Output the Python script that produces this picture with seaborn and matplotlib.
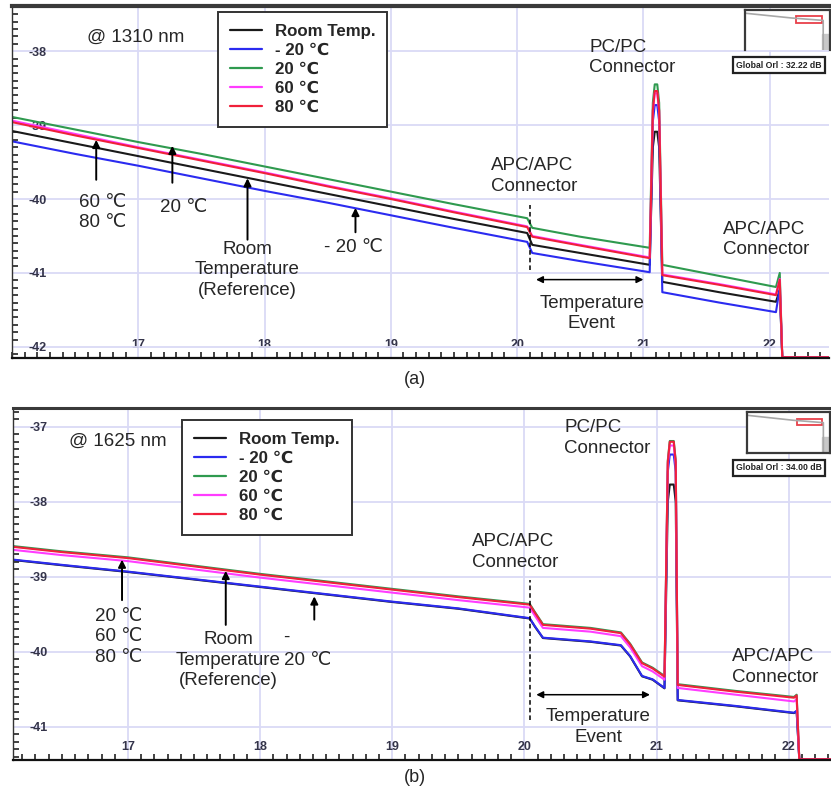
import matplotlib
matplotlib.use("Agg")
import matplotlib.pyplot as plt
import numpy as np
import pandas as pd
import seaborn as sns
from matplotlib.ticker import MultipleLocator
from matplotlib.patches import Rectangle

# ---------------- data ----------------
series_names = ['Room Temp.', '- 20 ℃', '20 ℃', '60 ℃', '80 ℃']
series_colors = ['#1a1a1a', '#2b2bf0', '#2f9a4f', '#ff3cff', '#f0203a']

# Panel (a) @ 1310 nm : distance (km)
dist_a = [16.0, 16.5, 17.0, 17.5, 18.0, 18.5, 19.0, 19.5, 20.08, 20.12, 20.5,
          21.05, 21.075, 21.09, 21.11, 21.125, 21.15, 21.6, 22.05, 22.08, 22.1, 22.47]
room_a = [-39.08, -39.25, -39.42, -39.59, -39.76, -39.93, -40.10, -40.27, -40.46, -40.62, -40.73,
          -40.89, -39.30, -39.09, -39.09, -39.30, -41.12, -41.26, -41.39, -41.23, -42.14, -42.14]
m20_a = [-39.22, -39.39, -39.55, -39.72, -39.89, -40.05, -40.22, -40.39, -40.58, -40.73, -40.84,
         -40.99, -38.95, -38.73, -38.73, -38.95, -41.26, -41.40, -41.53, -41.20, -42.14, -42.14]
p20_a = [-38.89, -39.06, -39.23, -39.39, -39.56, -39.73, -39.90, -40.07, -40.26, -40.39, -40.51,
         -40.66, -38.70, -38.45, -38.45, -38.70, -40.89, -41.04, -41.19, -41.00, -42.14, -42.14]
p60_a = [-38.94, -39.12, -39.30, -39.47, -39.64, -39.82, -39.99, -40.17, -40.37, -40.50, -40.62,
         -40.79, -38.82, -38.57, -38.57, -38.82, -41.02, -41.15, -41.29, -41.08, -42.14, -42.14]
p80_a = [-38.96, -39.14, -39.31, -39.48, -39.65, -39.83, -40.00, -40.18, -40.38, -40.51, -40.63,
         -40.80, -38.80, -38.54, -38.54, -38.80, -41.03, -41.16, -41.30, -41.09, -42.14, -42.14]

# Panel (b) @ 1625 nm
dist_b = [16.13, 16.5, 17.0, 17.5, 18.0, 18.5, 19.0, 19.5, 20.04, 20.08, 20.14, 20.5, 20.73,
          20.8, 20.89, 20.97, 21.06, 21.085, 21.1, 21.13, 21.145, 21.16, 21.6, 22.04, 22.06,
          22.08, 22.32]
room_b = [-38.775, -38.845, -38.935, -39.035, -39.135, -39.235, -39.335, -39.425, -39.555, -39.665,
          -39.815, -39.865, -39.915, -40.06, -40.325, -40.37, -40.485, -38.00, -37.77, -37.77,
          -38.00, -40.645, -40.725, -40.815, -40.79, -41.43, -41.43]
m20_b = [-38.77, -38.84, -38.93, -39.03, -39.13, -39.23, -39.33, -39.42, -39.55, -39.66,
         -39.81, -39.86, -39.91, -40.055, -40.32, -40.365, -40.48, -37.60, -37.37, -37.37,
         -37.60, -40.64, -40.72, -40.81, -40.785, -41.43, -41.43]
p20_b = [-38.59, -38.66, -38.74, -38.85, -38.96, -39.06, -39.16, -39.26, -39.36, -39.47,
         -39.63, -39.68, -39.74, -39.89, -40.14, -40.21, -40.32, -37.45, -37.19, -37.19,
         -37.45, -40.43, -40.52, -40.60, -40.57, -41.43, -41.43]
p60_b = [-38.64, -38.71, -38.79, -38.90, -39.01, -39.11, -39.21, -39.31, -39.41, -39.52,
         -39.68, -39.73, -39.79, -39.94, -40.19, -40.26, -40.37, -37.50, -37.25, -37.25,
         -37.50, -40.48, -40.57, -40.66, -40.63, -41.43, -41.43]
p80_b = [-38.60, -38.67, -38.75, -38.86, -38.97, -39.07, -39.17, -39.27, -39.37, -39.48,
         -39.64, -39.69, -39.75, -39.90, -40.15, -40.22, -40.33, -37.47, -37.20, -37.20,
         -37.47, -40.44, -40.53, -40.61, -40.58, -41.43, -41.43]

xticks_a = [17, 18, 19, 20, 21, 22]
yticks_a = [-38, -39, -40, -41, -42]
xticks_b = [17, 18, 19, 20, 21, 22]
yticks_b = [-37, -38, -39, -40, -41]

orl_a = "Global Orl : 32.22 dB"
orl_b = "Global Orl : 34.00 dB"

# mini overview trace for the inset
mini_x = [0.0, 0.55, 0.92, 0.92]
mini_y = [0.92, 0.80, 0.74, 0.0]


def make_df(dist, ys):
    rows = []
    for name, y in zip(series_names, ys):
        for d, v in zip(dist, y):
            rows.append((name, d, v))
    return pd.DataFrame(rows, columns=['series', 'km', 'dB'])


df_a = make_df(dist_a, [room_a, m20_a, p20_a, p60_a, p80_a])
df_b = make_df(dist_b, [room_b, m20_b, p20_b, p60_b, p80_b])

# ---------------- style ----------------
sns.set_style('white')
plt.rcParams['font.family'] = ['Liberation Sans', 'DejaVu Sans']

W, H = 831, 793
fig = plt.figure(figsize=(W / 100, H / 100), dpi=100)
axA = fig.add_axes([12 / W, 1 - 358 / H, 817 / W, 352 / H])
axB = fig.add_axes([13 / W, 1 - 760 / H, 818 / W, 352 / H])

palette = dict(zip(series_names, series_colors))
ANN = 13.5


def style_axis(ax, xlim, ylim, xt, yt, toplw):
    ax.set_xlim(*xlim)
    ax.set_ylim(*ylim)
    ax.set_xticks(xt)
    ax.set_yticks(yt)
    ax.set_xticklabels([str(v) for v in xt])
    ax.set_yticklabels([str(v) for v in yt])
    ax.xaxis.set_minor_locator(MultipleLocator(0.1))
    ax.yaxis.set_minor_locator(MultipleLocator(0.1))
    ax.grid(True, which='major', color='#dadaf6', lw=1.3)
    ax.set_axisbelow(True)
    ax.tick_params(axis='both', which='major', length=0, labelsize=9,
                   labelcolor='#34344a')
    ax.tick_params(axis='y', which='major', pad=-25)
    ax.tick_params(axis='x', which='major', pad=-14)
    ax.tick_params(axis='both', which='minor', direction='in', length=4,
                   width=1.2, color='#222222')
    ax.tick_params(axis='x', which='minor', bottom=True, top=False)
    ax.tick_params(axis='y', which='minor', left=True, right=False)
    for lab in ax.get_xticklabels() + ax.get_yticklabels():
        lab.set_fontweight('bold')
    ax.spines['right'].set_visible(False)
    ax.spines['top'].set_color('#3a3a3a')
    ax.spines['top'].set_linewidth(toplw)
    ax.spines['bottom'].set_color('#111111')
    ax.spines['bottom'].set_linewidth(1.6)
    ax.spines['left'].set_color('#333333')
    ax.spines['left'].set_linewidth(1.0)
    ax.set_xlabel('')
    ax.set_ylabel('')


for ax, df in ((axA, df_a), (axB, df_b)):
    sns.lineplot(data=df, x='km', y='dB', hue='series', hue_order=series_names,
                 palette=palette, sort=False, estimator=None, lw=1.5, ax=ax,
                 legend=True)

style_axis(axA, (16.0, 22.47), (-42.15, -37.39), xticks_a, yticks_a, 3.0)
style_axis(axB, (16.13, 22.32), (-41.44, -36.75), xticks_b, yticks_b, 2.2)

for ax, anchor in ((axA, (0.252, 0.983)), (axB, (0.207, 0.966))):
    sns.move_legend(ax, 'upper left', bbox_to_anchor=anchor, title=None,
                    frameon=True, fancybox=False, framealpha=1,
                    edgecolor='#333333', handlelength=1.9, handletextpad=0.75,
                    labelspacing=0.24, borderpad=0.7, borderaxespad=0,
                    prop={'weight': 'bold', 'size': 12.2,
                          'family': ['Liberation Sans', 'DejaVu Sans']})
    leg = ax.get_legend()
    leg.get_frame().set_linewidth(1.4)
    for ln in leg.get_lines():
        ln.set_linewidth(1.6)

arrow_kw = dict(arrowstyle='-|>', color='black', lw=1.4, mutation_scale=11,
                shrinkA=0, shrinkB=0)
dbl_kw = dict(arrowstyle='<|-|>', color='black', lw=1.1, mutation_scale=10,
              shrinkA=0, shrinkB=0)

# ---------- annotations panel (a) ----------
axA.text(16.98, -37.82, '@ 1310 nm', fontsize=ANN, ha='center', va='center')
axA.annotate('', xy=(16.667, -39.2), xytext=(16.667, -39.74), arrowprops=arrow_kw)
axA.text(16.72, -40.18, '60 ℃\n80 ℃', fontsize=ANN, ha='center', va='center',
         linespacing=1.25)
axA.annotate('', xy=(17.27, -39.28), xytext=(17.27, -39.78), arrowprops=arrow_kw)
axA.text(17.36, -40.11, '20 ℃', fontsize=ANN, ha='center', va='center')
axA.annotate('', xy=(17.865, -39.72), xytext=(17.865, -40.55), arrowprops=arrow_kw)
axA.text(17.865, -40.96, 'Room\nTemperature\n(Reference)', fontsize=ANN,
         ha='center', va='center', linespacing=1.25)
axA.annotate('', xy=(18.72, -40.12), xytext=(18.72, -40.45), arrowprops=arrow_kw)
axA.text(18.70, -40.66, '- 20 ℃', fontsize=ANN, ha='center', va='center')
axA.vlines(20.10, -40.96, -40.08, colors='black', linestyles=(0, (3, 2)), lw=1.1)
axA.text(19.79, -39.69, 'APC/APC\nConnector', fontsize=ANN, ha='left',
         va='center', linespacing=1.25)
axA.annotate('', xy=(21.0, -41.09), xytext=(20.15, -41.09), arrowprops=dbl_kw)
axA.text(20.59, -41.55, 'Temperature\nEvent', fontsize=ANN, ha='center',
         va='center', linespacing=1.25)
axA.text(20.57, -38.09, 'PC/PC\nConnector', fontsize=ANN, ha='left',
         va='center', linespacing=1.25)
axA.text(21.63, -40.55, 'APC/APC\nConnector', fontsize=ANN, ha='left',
         va='center', linespacing=1.25)

# ---------- annotations panel (b) ----------
axB.text(16.92, -37.2, '@ 1625 nm', fontsize=ANN, ha='center', va='center')
axB.annotate('', xy=(16.955, -38.77), xytext=(16.955, -39.31), arrowprops=arrow_kw)
axB.text(16.93, -39.8, '20 ℃\n60 ℃\n80 ℃', fontsize=ANN, ha='center',
         va='center', linespacing=1.25)
axB.annotate('', xy=(17.74, -38.92), xytext=(17.74, -39.64), arrowprops=arrow_kw)
axB.text(17.76, -40.11, 'Room\nTemperature\n(Reference)', fontsize=ANN,
         ha='center', va='center', linespacing=1.25)
axB.annotate('', xy=(18.41, -39.26), xytext=(18.41, -39.57), arrowprops=arrow_kw)
axB.text(18.20, -39.8, '-', fontsize=ANN, ha='center', va='center')
axB.text(18.36, -40.11, '20 ℃', fontsize=ANN, ha='center', va='center')
axB.vlines(20.04, -40.91, -39.04, colors='black', linestyles=(0, (3, 2)), lw=1.1)
axB.text(19.60, -38.67, 'APC/APC\nConnector', fontsize=ANN, ha='left',
         va='center', linespacing=1.25)
axB.annotate('', xy=(20.95, -40.57), xytext=(20.09, -40.57), arrowprops=dbl_kw)
axB.text(20.56, -41.0, 'Temperature\nEvent', fontsize=ANN, ha='center',
         va='center', linespacing=1.25)
axB.text(20.30, -37.15, 'PC/PC\nConnector', fontsize=ANN, ha='left',
         va='center', linespacing=1.25)
axB.text(21.57, -40.2, 'APC/APC\nConnector', fontsize=ANN, ha='left',
         va='center', linespacing=1.25)

# ---------- insets ----------
def inset(box_px, orl_center_px, text, bottom_spine):
    x0, y0, x1, y1 = box_px
    iax = fig.add_axes([x0 / W, 1 - y1 / H, (x1 - x0) / W, (y1 - y0) / H])
    iax.set_xlim(0, 1)
    iax.set_ylim(0, 1)
    iax.plot(mini_x, mini_y, color='#a8a8a8', lw=1.2)
    iax.add_patch(Rectangle((0.6, 0.68), 0.3, 0.16, fill=False,
                            edgecolor='#e8404a', lw=1.3))
    iax.add_patch(Rectangle((0.9, 0.0), 0.1, 0.4, color='#c8c8c8'))
    iax.set_xticks([])
    iax.set_yticks([])
    iax.patch.set_facecolor('white')
    for s in iax.spines.values():
        s.set_color('#3a3a3a')
        s.set_linewidth(1.6)
    iax.spines['bottom'].set_visible(bottom_spine)
    fig.text(orl_center_px[0] / W, 1 - orl_center_px[1] / H, text,
             fontsize=6.2, fontweight='bold', ha='center', va='center',
             color='#222222',
             bbox=dict(boxstyle='square,pad=0.35', fc='white',
                       ec='#222222', lw=1.6))


inset((745, 10, 830, 50), (779, 65), orl_a, False)
inset((747, 412, 830, 453), (779, 468), orl_b, True)

fig.text(415 / W, 1 - 380 / H, '(a)', fontsize=13, ha='center', va='center')
fig.text(415 / W, 1 - 778 / H, '(b)', fontsize=13, ha='center', va='center')

fig.savefig('out.png', dpi=100)
